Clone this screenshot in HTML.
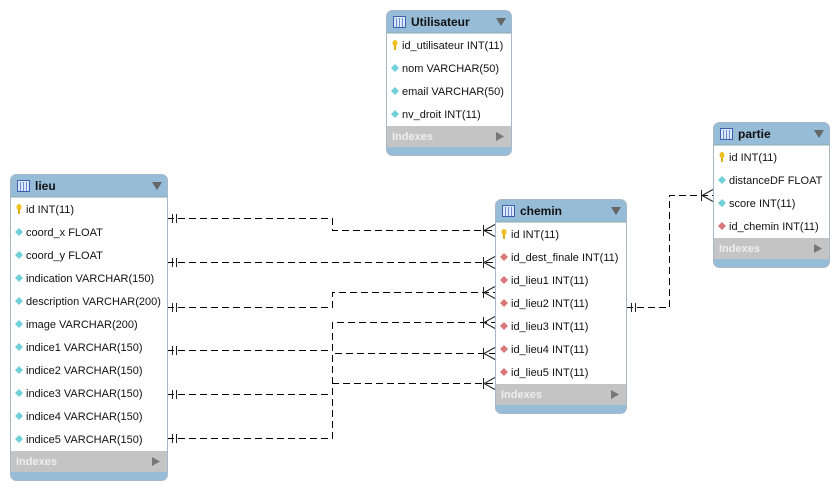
<!DOCTYPE html>
<html><head><meta charset="utf-8"><style>
html,body{margin:0;padding:0;background:#fff;width:839px;height:491px;overflow:hidden}
svg{display:block;font-family:"Liberation Sans",sans-serif}
</style></head><body>
<svg id="s" width="839" height="491" xmlns="http://www.w3.org/2000/svg">
<g fill="none" stroke="#000" stroke-width="1" stroke-dasharray="7,4">
<path d="M167 218.5H332.5V230.5H495"/>
<path d="M167 262.5H495"/>
<path d="M167 307.5H332.5V292.5H495"/>
<path d="M167 350.5H332.5V322.5H495"/>
<path d="M167 394.5H332.5V353.5H495"/>
<path d="M167 438.5H332.5V383.5H495"/>
<path d="M626 307.5H669.5V195.5H713"/>
</g>
<g id="marks" stroke="#222" stroke-width="1" fill="none"></g>
<g id="tables"></g>
</svg>
<script>
var NS="http://www.w3.org/2000/svg";
function el(p,t,a,txt){var e=document.createElementNS(NS,t);for(var k in a)e.setAttribute(k,a[k]);if(txt!=null)e.textContent=txt;p.appendChild(e);return e;}
var m=document.getElementById('marks');
[218,262,307,350,394,438].forEach(function(y){el(m,'path',{d:'M172.5 '+(y-4)+'v9M176.5 '+(y-4)+'v9'});});
el(m,'path',{d:'M631.5 303v9M635.5 303v9'});
[230,262,292,322,353,383].forEach(function(y){el(m,'path',{d:'M483.5 '+(y-5)+'v11M495 '+(y-5.5)+'L484 '+(y+0.5)+'L495 '+(y+6.5)});});
el(m,'path',{d:'M701.5 190v11M713 189.5L702 195.5L713 201.5'});
var T=document.getElementById('tables');
function table(x,y,w,name,rows,rh,hh){
 var n=rows.length, bodyH=12+n*23-11, total=hh+bodyH+21+8;
 var g=el(T,'g',{});
 el(g,'rect',{x:x+0.5,y:y+0.5,width:w,height:total,rx:6,fill:'#96bcd8',stroke:'#a8b8c8'});
 el(g,'rect',{x:x+1,y:y+hh,width:w-1,height:bodyH,fill:'#fff'});
 el(g,'line',{x1:x+1,y1:y+hh,x2:x+w,y2:y+hh,stroke:'#8aa'});
 el(g,'rect',{x:x+1,y:y+hh+bodyH,width:w-1,height:21,fill:'#c4c4c4'});
 el(g,'rect',{x:x+7.5,y:y+6.5,width:12,height:11,fill:'#dde8ff',stroke:'#3a5fb0'});
 el(g,'path',{d:'M'+(x+10.5)+' '+(y+8)+'v9M'+(x+13.5)+' '+(y+8)+'v9M'+(x+16.5)+' '+(y+8)+'v9',stroke:'#6a8ad0'});
 el(g,'text',{x:x+25,y:y+16,'font-size':12,'font-weight':'bold',fill:'#111'},name);
 el(g,'path',{d:'M'+(x+w-15)+' '+(y+8)+'h10l-5 8z',fill:'#666'});
 rows.forEach(function(r,i){
  var cy=y+hh+12+i*23, cx=x+9;
  if(r[0]=='k'){el(g,'ellipse',{cx:cx,cy:cy-2,rx:2.5,ry:3,fill:'#f0c020'});el(g,'rect',{x:cx-1,y:cy,width:2,height:5,fill:'#e0b010'});}
  else el(g,'path',{d:'M'+(cx-4)+' '+cy+'l4-4l4 4l-4 4z',fill:r[0]=='f'?'#d87878':'#70d0d8'});
  el(g,'text',{x:x+16,y:cy+4,'font-size':11,fill:'#111'},r[1]);
 });
 var iy=y+hh+bodyH;
 el(g,'text',{x:x+6,y:iy+14,'font-size':11,'font-weight':'bold',fill:'#eee'},'Indexes');
 el(g,'path',{d:'M'+(x+w-15)+' '+(iy+6)+'l8 4.5l-8 4.5z',fill:'#777'});
}
table(386,10,125,'Utilisateur',[['k','id_utilisateur INT(11)'],['a','nom VARCHAR(50)'],['a','email VARCHAR(50)'],['a','nv_droit INT(11)']],22,23);
table(10,174,157,'lieu',[['k','id INT(11)'],['a','coord_x FLOAT'],['a','coord_y FLOAT'],['a','indication VARCHAR(150)'],['a','description VARCHAR(200)'],['a','image VARCHAR(200)'],['a','indice1 VARCHAR(150)'],['a','indice2 VARCHAR(150)'],['a','indice3 VARCHAR(150)'],['a','indice4 VARCHAR(150)'],['a','indice5 VARCHAR(150)']],23,23);
table(495,199,131,'chemin',[['k','id INT(11)'],['f','id_dest_finale INT(11)'],['f','id_lieu1 INT(11)'],['f','id_lieu2 INT(11)'],['f','id_lieu3 INT(11)'],['f','id_lieu4 INT(11)'],['f','id_lieu5 INT(11)']],23,23);
table(713,122,116,'partie',[['k','id INT(11)'],['a','distanceDF FLOAT'],['a','score INT(11)'],['f','id_chemin INT(11)']],23,23);
</script>
</body></html>
